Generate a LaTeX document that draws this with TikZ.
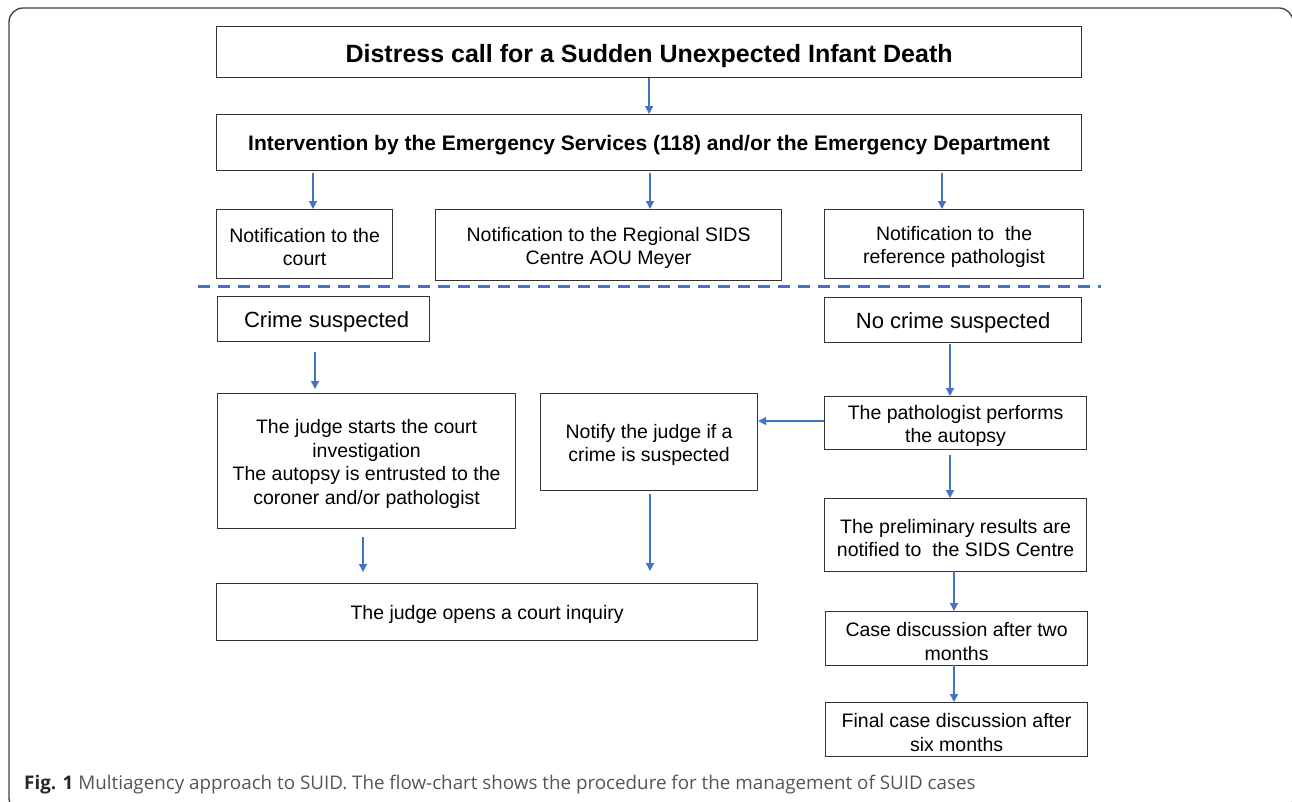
\documentclass[tikz,border=0pt]{standalone}
\usepackage{fontspec}
\setmainfont{Liberation Sans}
\newfontfamily\capfont{Open Sans}
\usetikzlibrary{arrows.meta,calc}
\definecolor{arrblue}{HTML}{4472C4}
\definecolor{capgray}{HTML}{555555}
\newcommand{\tstrut}{\rule{0pt}{1em}}
\begin{document}
\begin{tikzpicture}[x=1pt,y=-1pt,
  box/.style={draw=black!80, line width=1.2pt, inner sep=0pt, align=center, anchor=north west, font=\fontsize{19.5}{23.5}\selectfont},
  bbox/.style={box, font=\fontsize{21}{25}\selectfont\bfseries},
  arr/.style={draw=arrblue, line width=1.3pt, -{Triangle[width=8pt,length=8pt]}}]
\useasboundingbox (0,0) rectangle (1292,801);
\begin{scope}
\clip (0,0) rectangle (1292,801);
\draw[black!75, line width=1.3pt, rounded corners=14pt] (9,8) rectangle (1293,812);
\end{scope}

\node[bbox, font=\fontsize{25}{28}\selectfont\bfseries, minimum width=865pt, minimum height=51pt] (title) at (216,26) {\tstrut Distress call for a Sudden Unexpected Infant Death};
\node[bbox, minimum width=865pt, minimum height=56pt] (interv) at (216,114) {\tstrut Intervention by the Emergency Services (118) and/or the Emergency Department};
\node[box, minimum width=176pt, minimum height=69pt] (court) at (216,209) {\tstrut Notification to the\\court};
\node[box, minimum width=346pt, minimum height=71pt] (sids) at (435,209) {\tstrut Notification to the Regional SIDS\\Centre AOU Meyer};
\node[box, minimum width=259pt, minimum height=69pt] (refpath) at (824,209) {\tstrut Notification to\ \ the\\reference pathologist};

\coordinate (dl) at (198,286);
\coordinate (dr) at (1101,286);
\draw[arrblue, line width=3pt, dash pattern=on 12pt off 8pt] (dl) -- (dr);

\node[box, font=\fontsize{22}{26}\selectfont, minimum width=212pt, minimum height=45pt] (crime) at (217,296) {\tstrut\hspace*{6pt}Crime suspected};
\node[box, font=\fontsize{22}{26}\selectfont, minimum width=257pt, minimum height=45pt] (nocrime) at (824,297) {\tstrut No crime suspected};
\node[box, minimum width=298pt, minimum height=135pt] (judge) at (217,393) {\tstrut The judge starts the court\\investigation\\The autopsy is entrusted to the\\coroner and/or pathologist};
\node[box, minimum width=217pt, minimum height=97pt] (notify) at (540,393) {\tstrut Notify the judge if a\\crime is suspected};
\node[box, minimum width=262pt, minimum height=53pt] (perform) at (824,396) {\tstrut The pathologist performs\\the autopsy};
\node[box, minimum width=262pt, minimum height=73pt] (prelim) at (824,498) {\tstrut The preliminary results are\\notified to\ \ the SIDS Centre};
\node[box, minimum width=541pt, minimum height=57pt] (inquiry) at (216,583) {\tstrut The judge opens a court inquiry};
\node[box, minimum width=262pt, minimum height=54pt] (two) at (825,611) {\tstrut Case discussion after two\\months};
\node[box, minimum width=262pt, minimum height=54pt] (six) at (825,702) {\tstrut Final case discussion after\\six months};

% connectors
\draw[arr] (title.south) -- (interv.north);
\draw[arr] (313,173) coordinate (a1) -- (a1 |- court.north);
\draw[arr] (650,173) coordinate (a2) -- (a2 |- sids.north);
\draw[arr] (942,173) coordinate (a3) -- (a3 |- refpath.north);
\draw[arr] (315,352) coordinate (a4) -- (315,389) coordinate (b4);
\draw[arr] (950,344) coordinate (a5) -- (a5 |- perform.north);
\draw[arr] (perform.west |- 0,421) -- (notify.east |- 0,421);
\draw[arr] (950,455) coordinate (a6) -- (a6 |- prelim.north);
\draw[arr] (363,537) coordinate (a7) -- (363,572) coordinate (b7);
\draw[arr] (650,494) coordinate (a8) -- (650,571) coordinate (b8);
\draw[arr] (954,571) coordinate (a9) -- (a9 |- two.north);
\draw[arr] (954,665) coordinate (a10) -- (a10 |- six.north);

\node[anchor=base west, inner sep=0pt, font=\capfont\fontsize{18.8}{21}\selectfont, text=capgray] (cap) at (24,789) {{\bfseries\color{black!85}Fig. 1} Multiagency approach to SUID. The flow-chart shows the procedure for the management of SUID cases};
\end{tikzpicture}
\end{document}
